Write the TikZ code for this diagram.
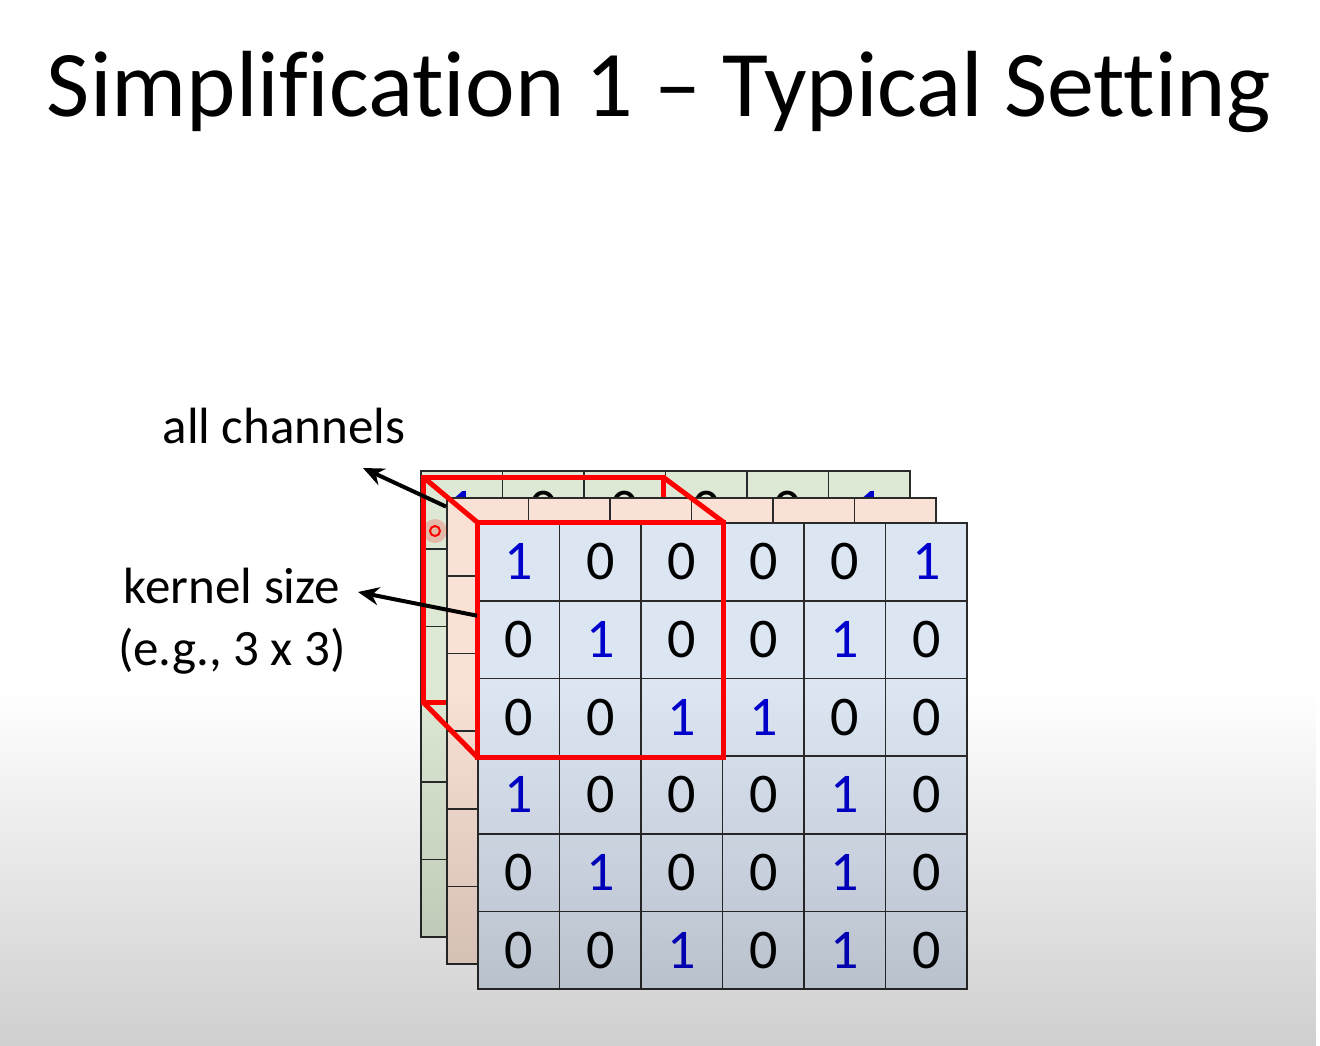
\documentclass[tikz,border=0pt]{standalone}
\usepackage{fontspec}
\setmainfont{Carlito}[Ligatures={TeX,NoCommon}]
\usepackage{tikz}
\usetikzlibrary{arrows.meta,calc,fadings}

\definecolor{chgreen}{HTML}{DDE9D4}
\definecolor{chpeach}{HTML}{FAE1D5}
\definecolor{chblue}{HTML}{DCE6F3}
\definecolor{gridline}{HTML}{2A2A2A}
\definecolor{oneblue}{HTML}{0000CC}
\tikzfading[name=fadedown, top color=transparent!100, bottom color=transparent!0]

% one input channel: name, left, top, fill, show digits (1/0)
\newcommand{\channel}[5]{%
  \foreach \row [count=\r] in {{1,0,0,0,0,1},{0,1,0,0,1,0},{0,0,1,1,0,0},
                               {1,0,0,0,1,0},{0,1,0,0,1,0},{0,0,1,0,1,0}}
    \foreach \v [count=\c] in \row
      \node[cell,fill=#4] (#1-\r-\c) at ({#2+(\c-0.5)*81.5},{#3+(\r-0.5)*77.7})
        {\ifnum#5=1 \ifnum\v=1 \color{oneblue}\fi\v\fi};
}

\begin{document}
\begin{tikzpicture}[x=1pt,y=-1pt,
  cell/.style={rectangle,draw=gridline,line width=1.8pt,minimum width=81.5pt,
    minimum height=77.7pt,inner sep=0pt,font=\fontsize{56}{60}\selectfont},
  kernel/.style={draw=red,line width=5pt},
  ptr/.style={-{Stealth[length=21pt,width=18pt]},line width=4pt},
  lbl/.style={font=\fontsize{51}{62}\selectfont,align=center}]
  \useasboundingbox (0,0) rectangle (1320,1046);
  \fill[white] (0,0) rectangle (1320,1046);

  \node[anchor=base,font=\fontsize{94}{110}\selectfont] (title) at (659,117)
    {Simplification 1 -- Typical Setting};

  % channels, back to front
  \channel{g}{421}{471}{chgreen}{1}
  \coordinate (kb-nw) at (423,477);
  \coordinate (kb-ne) at (663,477);
  \coordinate (kb-sw) at (423,702);
  \coordinate (kb-se) at (663,702);
  \draw[kernel] (kb-nw) rectangle (kb-se);
  \channel{p}{447}{498}{chpeach}{0}
  \channel{f}{478}{523}{chblue}{1}

  % kernel window
  \draw[kernel] (f-1-1.north west) rectangle (f-3-3.south east);
  \draw[kernel] (kb-nw) -- (f-1-1.north west);
  \draw[kernel] (kb-ne) -- (f-1-3.north east);
  \draw[kernel] (kb-sw) -- (f-3-1.south west);

  % pointer
  \fill[red,opacity=.2] (435,531) circle (12);
  \draw[red,line width=2pt] (435,531) circle (5);

  % labels
  \node[lbl,anchor=base] (chlbl) at (284,443) {all channels};
  \node[lbl] (kslbl) at (232,621) {kernel size\\(e.g., 3 x 3)};
  \coordinate (chtip) at (363,468);
  \coordinate (kstip) at (358,592);
  \draw[ptr] ($(p-1-1.north west)!0.12!(p-1-1.south west)$) -- (chtip);
  \draw[ptr] ($(f-2-1.north west)!0.2!(f-2-1.south west)$) -- (kstip);

  % shading at the bottom
  \fill[black,opacity=.19,path fading=fadedown] (0,690) rectangle (1320,1046);
\end{tikzpicture}
\end{document}
